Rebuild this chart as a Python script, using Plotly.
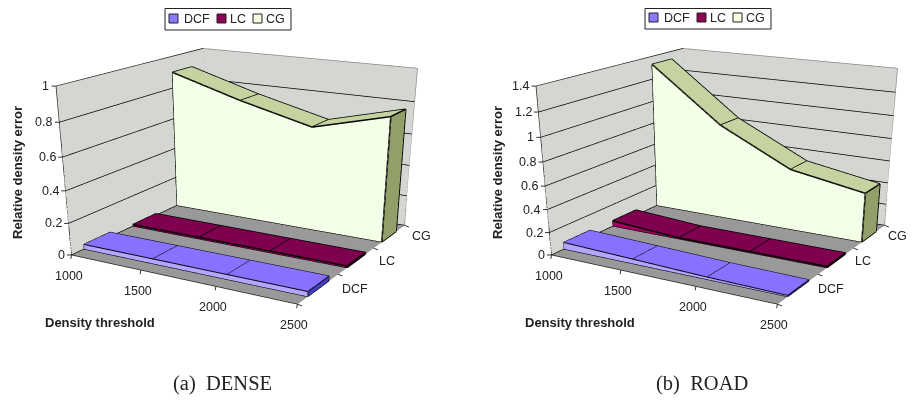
import plotly.graph_objects as go

thresholds = [1000, 1500, 2000, 2500]
series_names = ["DCF", "LC", "CG"]
dense_dcf = [0.03, 0.03, 0.03, 0.03]
dense_lc = [0.01, 0.01, 0.01, 0.01]
dense_cg = [0.90, 0.77, 0.66, 0.78]
road_dcf = [0.06, 0.04, 0.02, 0.01]
road_lc = [0.05, 0.01, 0.01, 0.01]
road_cg = [1.33, 0.86, 0.55, 0.44]
dense_ticks = [0, 0.2, 0.4, 0.6, 0.8, 1]
road_ticks = [0, 0.2, 0.4, 0.6, 0.8, 1, 1.2, 1.4]

camera = dict(eye=dict(x=2.2002, y=-3.8246, z=1.1471), center=dict(x=0.2726, y=-0.4718, z=-0.9873),
              up=dict(x=0, y=0, z=1), projection=dict(type="perspective"))
aspect = dict(x=1.1598, y=1.1590, z=0.7440)

# A tall page gives the scene the long focal length of the original; the part past the window is blank.
FW = 907
FH = 800
def px(x): return (x - 8) / FW
def py(y): return 1 - (y - 8) / FH

TXT = "#222222"
FONT = "Liberation Sans"
DEPTH = [(0.24, 0.76), (1.24, 1.76), (2.26, 2.72)]
FRONT = ["#b3a6ff", "#a0005c", "#f4ffe8"]
TOP = ["#8a70ff", "#800050", "#c6d3a0"]
END = ["#4040c0", "#600040", "#939f68"]
KEY = ["#8a7aff", "#8e0055", "#f4ffe0"]
WIDTH = [2, 3, 3]
XR = [thresholds[0] - 1, thresholds[-1] + 1]

fig = go.Figure()

def add_ribbon(scene, idx, values):
    y0, y1 = DEPTH[idx]
    xs, ys, zs = [], [], []
    for t, v in zip(thresholds, values):
        xs += [t, t, t, t]
        ys += [y0, y0, y1, y1]
        zs += [0, v, 0, v]
    I, J, K, C = [], [], [], []
    def quad(a, b, c, d, col):
        I.extend([a, a]); J.extend([b, c]); K.extend([c, d]); C.extend([col, col])
    for s in range(len(thresholds) - 1):
        a = 4 * s
        b = a + 4
        quad(a, a + 1, b + 1, b, FRONT[idx])
        quad(a + 1, a + 3, b + 3, b + 1, TOP[idx])
    e = 4 * (len(thresholds) - 1)
    quad(e, e + 1, e + 3, e + 2, END[idx])
    quad(0, 1, 3, 2, FRONT[idx])
    fig.add_trace(go.Mesh3d(x=xs, y=ys, z=zs, i=I, j=J, k=K, facecolor=C, flatshading=True, scene=scene, showscale=False,
                            lighting=dict(ambient=1, diffuse=0, specular=0, fresnel=0, roughness=1),
                            hoverinfo="skip", name=series_names[idx]))
    lx, ly, lz = [], [], []
    def seg(p, q):
        lx.extend([p[0], q[0], None]); ly.extend([p[1], q[1], None]); lz.extend([p[2], q[2], None])
    n = len(thresholds)
    for s in range(n - 1):
        seg((thresholds[s], y0, values[s]), (thresholds[s + 1], y0, values[s + 1]))
        seg((thresholds[s], y1, values[s]), (thresholds[s + 1], y1, values[s + 1]))
    for s in range(n):
        seg((thresholds[s], y0, values[s]), (thresholds[s], y1, values[s]))
    seg((thresholds[0], y0, 0), (thresholds[-1], y0, 0))
    seg((thresholds[0], y0, 0), (thresholds[0], y0, values[0]))
    seg((thresholds[-1], y0, 0), (thresholds[-1], y0, values[-1]))
    seg((thresholds[-1], y0, 0), (thresholds[-1], y1, 0))
    seg((thresholds[-1], y1, 0), (thresholds[-1], y1, values[-1]))
    fig.add_trace(go.Scatter3d(x=lx, y=ly, z=lz, mode="lines", line=dict(color="#000000", width=WIDTH[idx]),
                               scene=scene, hoverinfo="skip", showlegend=False))

def add_frame(scene, zmax):
    xa, xb = XR
    yb = len(series_names)
    fig.add_trace(go.Scatter3d(x=[xa, xa, xb, xb, None, xa, xa], y=[0, yb, yb, yb, None, yb, yb],
                               z=[zmax, zmax, zmax, 0, None, 0, zmax], mode="lines",
                               line=dict(color="#8c8c8c", width=1.5), scene=scene, hoverinfo="skip", showlegend=False))
    fig.add_trace(go.Scatter3d(x=[xa, xa, xb, xb], y=[0, 0, 0, yb], z=[zmax, 0, 0, 0], mode="lines",
                               line=dict(color="#222222", width=1.5), scene=scene, hoverinfo="skip", showlegend=False))

def tick(x, y, z, ax, ay):
    return dict(x=x, y=y, z=z, text=" ", showarrow=True, arrowhead=0, arrowwidth=1, arrowcolor="#333333",
                ax=ax, ay=ay, borderpad=0, font=dict(size=1))

def scene_layout(ticks, domain, series_shift):
    zmax = ticks[-1]
    ann = []
    label = dict(family=FONT, size=12.5, color=TXT)
    for t in ticks:
        ann.append(dict(x=thresholds[0], y=0, z=t, text=str(t), showarrow=False, xanchor="right", yanchor="middle", xshift=-5, font=label))
        ann.append(tick(thresholds[0], 0, t, -5, 0))
    for t in thresholds:
        ann.append(dict(x=t, y=0, z=0, text=str(t), showarrow=False, xanchor="center", yanchor="top", xshift=-3, yshift=-12, font=label))
        ann.append(tick(t, 0, 0, -1, 5))
    for i, s in enumerate(series_names):
        ann.append(dict(x=thresholds[-1], y=i + 0.5, z=0, text=s, showarrow=False, xanchor="left", yanchor="middle", xshift=series_shift, font=label))
    for b in range(len(series_names) + 1):
        ann.append(tick(thresholds[-1], b, 0, 5, 2))
    common = dict(title=dict(text=""), showticklabels=False, showspikes=False, zeroline=False, showline=False, ticks="")
    return dict(domain=dict(x=domain, y=[0, 1]), camera=camera, aspectmode="manual", aspectratio=aspect, annotations=ann,
                xaxis=dict(range=XR, showgrid=False, showbackground=True, backgroundcolor="#d4d6d2", tickvals=thresholds, **common),
                yaxis=dict(range=[0, len(series_names)], showgrid=False, showbackground=True, backgroundcolor="#d4d6d2", tickvals=[0, 1, 2, 3], **common),
                zaxis=dict(range=[0, zmax], tickvals=ticks, showgrid=True, gridcolor="#000000", gridwidth=1.5, showbackground=True, backgroundcolor="#999999", **common))

for scene, dat, ticks in [("scene", (dense_dcf, dense_lc, dense_cg), dense_ticks),
                          ("scene2", (road_dcf, road_lc, road_cg), road_ticks)]:
    for i, v in enumerate(dat):
        add_ribbon(scene, i, v)
    add_frame(scene, ticks[-1])

shapes = []
anns = []
for dx, dy, cap, cx, xt in [(0, 0, "(a)  DENSE", 222, 43), (480, -1, "(b)  ROAD", 702, 523)]:
    shapes.append(dict(type="rect", xref="paper", yref="paper", x0=px(165 + dx), x1=px(291 + dx), y0=py(8.5), y1=py(30 + dy),
                       line=dict(color="#222222", width=1), fillcolor="#ffffff"))
    for name, col, mx, tx in zip(series_names, KEY, [169, 217, 253], [182, 228, 264]):
        shapes.append(dict(type="rect", xref="paper", yref="paper", x0=px(mx + dx), x1=px(mx + 9 + dx), y0=py(14 + dy), y1=py(23 + dy),
                           line=dict(color="#222222", width=1), fillcolor=col))
        anns.append(dict(xref="paper", yref="paper", x=px(tx + dx), y=py(19 + dy), text=name, showarrow=False, xanchor="left", yanchor="middle",
                         font=dict(family=FONT, size=12.5, color=TXT)))
    anns.append(dict(xref="paper", yref="paper", x=px(cx), y=py(383), text=cap, showarrow=False, xanchor="center", yanchor="middle",
                     font=dict(family="Liberation Serif", size=20.5, color=TXT)))
    anns.append(dict(xref="paper", yref="paper", x=px(xt), y=py(322), text="<b>Density threshold</b>", showarrow=False, xanchor="left", yanchor="middle",
                     font=dict(family=FONT, size=13, color=TXT)))
    anns.append(dict(xref="paper", yref="paper", x=px(17 + dx), y=py(173), text="<b>Relative density error</b>", textangle=-90, showarrow=False,
                     xanchor="center", yanchor="middle", font=dict(family=FONT, size=13, color=TXT)))

s1 = scene_layout(dense_ticks, [0, (482 - 8) / FW], 21)
s2 = scene_layout(road_ticks, [(535 - 8) / FW, 1], 17)
fig.update_layout(width=FW, height=FH, margin=dict(l=0, r=0, t=0, b=0), paper_bgcolor="#ffffff", showlegend=False,
                  shapes=shapes, annotations=anns, scene=s1, scene2=s2)
fig.write_html("out.html", post_script="document.documentElement.style.overflow='hidden';")
